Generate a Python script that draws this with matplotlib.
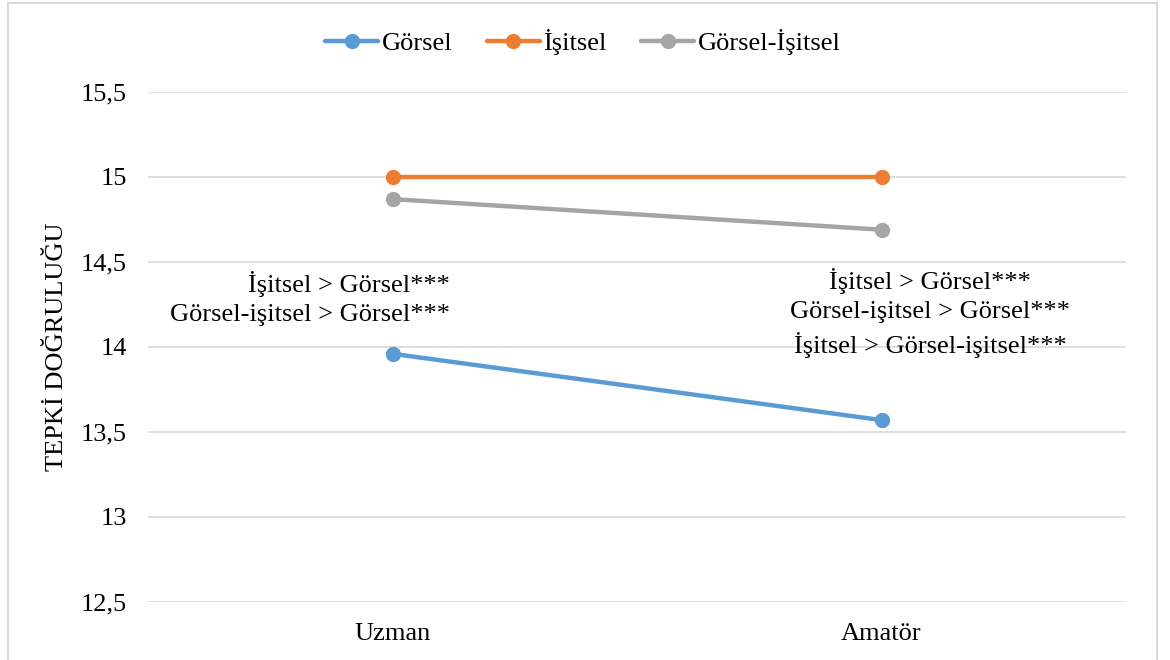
import matplotlib
matplotlib.use("Agg")
import matplotlib.pyplot as plt
from matplotlib.patches import Rectangle

categories = ["Uzman", "Amatör"]
gorsel = [13.96, 13.57]
isitsel = [15.0, 15.0]
gorsel_isitsel = [14.87, 14.69]
series_names = ["Görsel", "İşitsel", "Görsel-İşitsel"]
yticks = [12.5, 13, 13.5, 14, 14.5, 15, 15.5]
ytick_labels = ["12,5", "13", "13,5", "14", "14,5", "15", "15,5"]
ylabel = "TEPKİ DOĞRULUĞU"
note_left = "İşitsel > Görsel***\nGörsel-işitsel > Görsel***"
note_right = "İşitsel > Görsel***\nGörsel-işitsel > Görsel***\nİşitsel > Görsel-işitsel***"

plt.rcParams['font.family'] = ['Liberation Serif', 'DejaVu Serif']
FS = 19

fig = plt.figure(figsize=(11.7, 6.6), dpi=100)
fig.patches.append(Rectangle((8/1170, -0.01), (1157-8)/1170, (657)/660 + 0.01,
                             transform=fig.transFigure, fill=False,
                             edgecolor="#D9D9D9", linewidth=1.5))
ax = fig.add_axes([148/1170, (660-602)/660, (1126-148)/1170, (602-92)/660])

colors = ["#5B9BD5", "#ED7D31", "#A5A5A5"]
x = list(range(len(categories)))
for vals, name, c in zip([gorsel, isitsel, gorsel_isitsel], series_names, colors):
    ax.plot(x, vals, color=c, linewidth=3.2, marker="o", markersize=10,
            label=name, solid_capstyle="round", zorder=3)

ax.set_xlim(-0.5, 1.5)
ax.set_ylim(12.5, 15.5)
ax.set_yticks(yticks)
ax.set_yticklabels(ytick_labels, fontsize=FS)
ax.set_xticks(x)
ax.set_xticklabels(categories, fontsize=FS)
ax.tick_params(axis="x", length=0, pad=15)
ax.tick_params(axis="y", length=0, pad=15)
ax.grid(axis="y", color="#D9D9D9", linewidth=1.2)
for s in ax.spines.values():
    s.set_visible(False)
ax.set_ylabel(ylabel, fontsize=FS)
ax.yaxis.set_label_coords(-0.082, 0.5)

ax.text(0.118, 14.285, note_left, ha="right", va="center", fontsize=FS,
        linespacing=1.45, multialignment="right")
ax.text(1.099, 14.20, note_right, ha="center", va="center", fontsize=FS,
        linespacing=1.4, multialignment="center")

leg = fig.legend(loc="center", bbox_to_anchor=(583/1170, 1 - 42/660), ncol=3,
                 frameon=False, fontsize=FS, handlelength=2.0, handletextpad=0.15,
                 columnspacing=1.3)

fig.savefig("out.png", dpi=100)
